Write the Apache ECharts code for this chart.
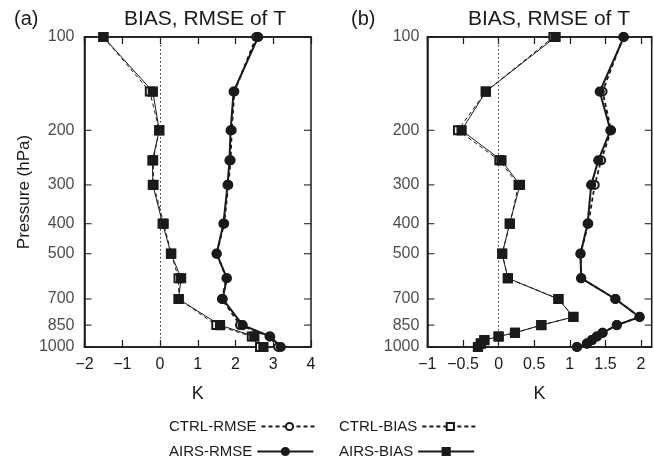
<!DOCTYPE html>
<html>
<head>
<meta charset="utf-8">
<script src="https://cdn.jsdelivr.net/npm/echarts@6/dist/echarts.min.js"></script>
<style>
    html, body { margin: 0; padding: 0; background: #fff; }
    #chart { width: 654px; height: 460px; }
</style>
</head>
<body>
<div id="chart"></div>
<script>
// pressure levels (hPa)
var levelsA = [100, 150, 200, 250, 300, 400, 500, 600, 700, 850, 925, 1000];
var levelsB = [100, 150, 200, 250, 300, 400, 500, 600, 700, 800, 850, 900, 925, 950, 975, 1000];

// panel (a)
var ctrlRmseA = [2.55, 1.97, 1.9, 1.87, 1.81, 1.7, 1.5, 1.76, 1.64, 2.12, 2.9, 3.13];
var airsRmseA = [2.6, 1.95, 1.87, 1.84, 1.79, 1.68, 1.5, 1.77, 1.66, 2.19, 2.92, 3.2];
var ctrlBiasA = [-1.5, -0.27, -0.02, -0.18, -0.17, 0.1, 0.3, 0.49, 0.5, 1.49, 2.43, 2.65];
var airsBiasA = [-1.5, -0.19, -0.02, -0.2, -0.19, 0.07, 0.29, 0.56, 0.49, 1.59, 2.5, 2.74];

// panel (b)
var ctrlRmseB = [1.75, 1.46, 1.58, 1.44, 1.35, 1.26, 1.15, 1.16, 1.64, 1.98, 1.66, 1.46, 1.38, 1.31, 1.24, 1.1];
var airsRmseB = [1.76, 1.42, 1.57, 1.4, 1.3, 1.25, 1.15, 1.16, 1.64, 1.98, 1.66, 1.46, 1.38, 1.31, 1.24, 1.1];
var ctrlBiasB = [0.77, -0.18, -0.57, 0.01, 0.28, 0.16, 0.05, 0.13, 0.84, 1.05, 0.6, 0.23, 0.0, -0.2, -0.25, -0.29];
var airsBiasB = [0.8, -0.18, -0.52, 0.04, 0.3, 0.155, 0.05, 0.13, 0.84, 1.05, 0.6, 0.23, 0.0, -0.2, -0.25, -0.29];

var pressureTicks = [100, 200, 300, 400, 500, 700, 850, 1000];
var xRangeA = [-2, 4];
var xRangeB = [-1, 2.15];

var FONT = 'Liberation Sans, Arial, Helvetica, sans-serif';
var INK = '#1a1a1a';

function pairs(values, levels) {
    var out = [];
    values.forEach(function (v, i) {
        out.push([v, levels[i]]);
    });
    return out;
}

function minusSign(v) {
    return String(v).replace('-', '\u2212');
}

function makeXAxes(gridIndex, range, interval) {
    return [{
        type: 'value', gridIndex: gridIndex, position: 'bottom',
        min: range[0], max: range[1], interval: interval,
        name: 'K', nameLocation: 'middle', nameGap: 38,
        nameTextStyle: { fontFamily: FONT, fontSize: 18, color: INK },
        axisLine: { show: true, onZero: false, lineStyle: { color: INK, width: 1.5 } },
        axisTick: { show: true, inside: true, length: 7, lineStyle: { color: INK, width: 1.2 } },
        axisLabel: {
            margin: 10, fontFamily: FONT, fontSize: 16, color: INK, interval: 0,
            showMaxLabel: range[1] % interval === 0,
            formatter: minusSign
        },
        splitLine: { show: false }
    }, {
        type: 'value', gridIndex: gridIndex, position: 'top',
        min: range[0], max: range[1], interval: interval,
        axisLine: { show: true, onZero: false, lineStyle: { color: INK, width: 1.5 } },
        axisTick: { show: true, inside: true, length: 7, lineStyle: { color: INK, width: 1.2 } },
        axisLabel: { show: false },
        splitLine: { show: false }
    }];
}

function makeYAxis(gridIndex, withName) {
    return {
        type: 'log', logBase: 10, gridIndex: gridIndex, inverse: true,
        min: 100, max: 1000, position: 'left',
        name: withName ? 'Pressure (hPa)' : '', nameLocation: 'middle', nameGap: 52, nameRotate: 90,
        nameTextStyle: { fontFamily: FONT, fontSize: 17, color: INK },
        axisLine: { show: true, onZero: false, lineStyle: { color: INK, width: 1.5 } },
        axisTick: { show: false },
        axisLabel: { show: false },
        splitLine: { show: false }
    };
}

function lineSeries(name, data, gi, dashed, symbol, size, width) {
    return {
        name: name, type: 'line', data: data,
        xAxisIndex: gi * 2, yAxisIndex: gi,
        symbol: symbol, symbolSize: size, showAllSymbol: true,
        lineStyle: { color: INK, width: width, type: dashed ? [4, 3] : 'solid' },
        itemStyle: { color: INK, borderColor: INK, borderWidth: 1.2 },
        emphasis: { disabled: true },
        z: dashed ? 3 : 4
    };
}

// pressure tick labels and inward tick marks, placed with the axes' own scales
function pressureMarks(gi, range, labelGap) {
    var left = pressureTicks.map(function (p) { return [range[0], p]; });
    var right = pressureTicks.map(function (p) { return [range[1], p]; });
    return [{
        type: 'scatter', xAxisIndex: gi * 2, yAxisIndex: gi, data: left,
        symbol: 'rect', symbolSize: 0.01, silent: true,
        label: {
            show: true, position: 'left', distance: labelGap,
            fontFamily: FONT, fontSize: 16, color: INK,
            formatter: function (p) { return p.value[1]; }
        }
    }, {
        type: 'scatter', xAxisIndex: gi * 2, yAxisIndex: gi, data: left,
        symbol: 'rect', symbolSize: [7, 1.3], symbolOffset: [3.5, 0],
        itemStyle: { color: INK }, silent: true
    }, {
        type: 'scatter', xAxisIndex: gi * 2, yAxisIndex: gi, data: right,
        symbol: 'rect', symbolSize: [7, 1.3], symbolOffset: [-3.5, 0],
        itemStyle: { color: INK }, silent: true
    }];
}

function zeroLine() {
    return {
        silent: true, symbol: ['none', 'none'],
        label: { show: false },
        lineStyle: { color: '#333', width: 1, type: [1.5, 2.5] },
        data: [{ xAxis: 0 }]
    };
}

function panelSeries(gi, ctrlRmse, airsRmse, ctrlBias, airsBias, levels, range, labelGap) {
    var s = [
        lineSeries('CTRL-BIAS', pairs(ctrlBias, levels), gi, true, 'emptyRect', 8, 1),
        lineSeries('CTRL-RMSE', pairs(ctrlRmse, levels), gi, true, 'emptyCircle', 8, 1.8),
        lineSeries('AIRS-BIAS', pairs(airsBias, levels), gi, false, 'rect', 9, 1),
        lineSeries('AIRS-RMSE', pairs(airsRmse, levels), gi, false, 'circle', 9, 2)
    ];
    s[2].markLine = zeroLine();
    return s.concat(pressureMarks(gi, range, labelGap));
}

function legendItem(name, left, top) {
    return {
        data: [name], left: left, top: top, orient: 'horizontal',
        align: 'right', itemWidth: 56, itemHeight: 9, itemGap: 0,
        selectedMode: false,
        textStyle: { fontFamily: FONT, fontSize: 15, color: INK, padding: [0, 0, 0, 0] }
    };
}

var myChart = echarts.init(document.getElementById('chart'), null, { renderer: 'canvas' });

var option = {
    backgroundColor: '#fff',
    animation: false,
    title: [
        { text: '(a)', left: 9, top: 4, textStyle: { fontFamily: FONT, fontSize: 20, fontWeight: 'normal', color: INK } },
        { text: 'BIAS, RMSE of T', left: 200, top: 4, textAlign: 'center', textStyle: { fontFamily: FONT, fontSize: 21, fontWeight: 'normal', color: INK } },
        { text: '(b)', left: 346, top: 4, textStyle: { fontFamily: FONT, fontSize: 20, fontWeight: 'normal', color: INK } },
        { text: 'BIAS, RMSE of T', left: 544, top: 4, textAlign: 'center', textStyle: { fontFamily: FONT, fontSize: 21, fontWeight: 'normal', color: INK } }
    ],
    legend: [
        legendItem('CTRL-RMSE', 164, 414),
        legendItem('CTRL-BIAS', 334, 414),
        legendItem('AIRS-RMSE', 164, 439),
        legendItem('AIRS-BIAS', 334, 439)
    ],
    grid: [
        { left: 84.5, top: 37, width: 226.5, height: 310, containLabel: false, outerBoundsMode: 'none',
          show: true, borderColor: INK, borderWidth: 1.5 },
        { left: 427.4, top: 37, width: 224.3, height: 310, containLabel: false, outerBoundsMode: 'none',
          show: true, borderColor: INK, borderWidth: 1.5 }
    ],
    xAxis: makeXAxes(0, xRangeA, 1).concat(makeXAxes(1, xRangeB, 0.5)),
    yAxis: [makeYAxis(0, true), makeYAxis(1, false)],
    series: panelSeries(0, ctrlRmseA, airsRmseA, ctrlBiasA, airsBiasA, levelsA, xRangeA, 10)
        .concat(panelSeries(1, ctrlRmseB, airsRmseB, ctrlBiasB, airsBiasB, levelsB, xRangeB, 8))
};

myChart.setOption(option);
</script>
</body>
</html>
